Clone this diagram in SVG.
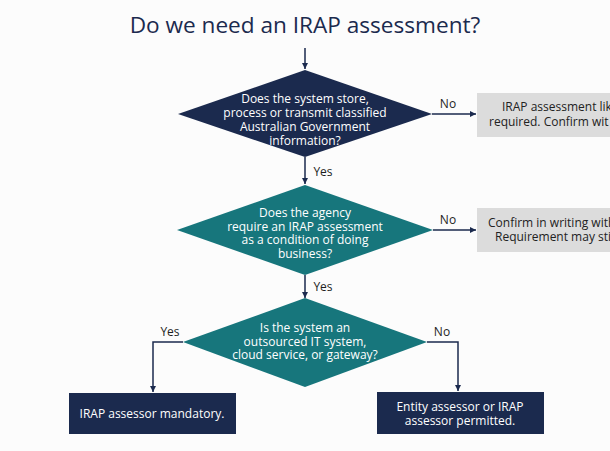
<svg xmlns="http://www.w3.org/2000/svg" width="610" height="451" viewBox="0 0 610 451">
<defs>
<marker id="ah" viewBox="0 0 10 10" refX="10" refY="5" markerWidth="6" markerHeight="6" orient="auto" markerUnits="userSpaceOnUse"><path d="M0,0 L10,5 L0,10 z" fill="#1b2a4e"/></marker>
<style>
text{font-family:"Open Sans","Liberation Sans",sans-serif}
.title{font-size:22.6px;fill:#1b2a4e;text-anchor:middle}
.dt{font-size:12px;fill:#ffffff;text-anchor:middle}
.lbl{font-size:12px;fill:#1e1e1e;text-anchor:middle}
.gt{font-size:12px;fill:#222222}
.navy{fill:#1b2a4e}
.teal{fill:#17767c}
.gray{fill:#dcdcdc}
.con{fill:none;stroke:#1b2a4e;stroke-width:1.5;marker-end:url(#ah)}
</style>
</defs>
<rect width="610" height="451" fill="#fcfcfc"/>
<text class="title" x="305" y="33">Do we need an IRAP assessment?</text>
<g id="connectors">
<path class="con" d="M305,48 V69"/>
<path class="con" d="M432,114 H476"/>
<path class="con" d="M305,157 V184"/>
<path class="con" d="M433,230 H476"/>
<path class="con" d="M305,275 V298"/>
<path class="con" d="M183,342 H153 V392"/>
<path class="con" d="M427,342 H458 V391"/>
</g>
<g id="labels">
<text class="lbl" x="448" y="108">No</text>
<text class="lbl" x="323" y="176">Yes</text>
<text class="lbl" x="448" y="224">No</text>
<text class="lbl" x="323" y="291">Yes</text>
<text class="lbl" x="170" y="336">Yes</text>
<text class="lbl" x="442" y="336">No</text>
</g>
<g id="q1">
<polygon class="navy" points="305,70 432,114 305,157 178,114"/>
<text class="dt" x="305" y="103">Does the system store,</text>
<text class="dt" x="305" y="117">process or transmit classified</text>
<text class="dt" x="305" y="131">Australian Government</text>
<text class="dt" x="305" y="145">information?</text>
</g>
<g id="r1">
<rect class="gray" x="477" y="93" width="140" height="44"/>
<text class="gt" x="502" y="111">IRAP assessment lik</text>
<text class="gt" x="489" y="126">required. Confirm wit</text>
</g>
<g id="q2">
<polygon class="teal" points="305,185 433,230 305,275 177,230"/>
<text class="dt" x="305" y="217">Does the agency</text>
<text class="dt" x="305" y="230.5">require an IRAP assessment</text>
<text class="dt" x="305" y="244">as a condition of doing</text>
<text class="dt" x="305" y="257.5">business?</text>
</g>
<g id="r2">
<rect class="gray" x="477" y="208" width="140" height="44"/>
<text class="gt" x="488" y="227">Confirm in writing with</text>
<text class="gt" x="495" y="241">Requirement may sti</text>
</g>
<g id="q3">
<polygon class="teal" points="305,298 427,342 305,387 183,342"/>
<text class="dt" x="305" y="332">Is the system an</text>
<text class="dt" x="305" y="345.5">outsourced IT system,</text>
<text class="dt" x="305" y="359">cloud service, or gateway?</text>
</g>
<g id="yes-box">
<rect class="navy" x="69" y="393" width="167" height="41"/>
<text class="dt" x="152" y="418">IRAP assessor mandatory.</text>
</g>
<g id="no-box">
<rect class="navy" x="377" y="392" width="167" height="42"/>
<text class="dt" x="460" y="411">Entity assessor or IRAP</text>
<text class="dt" x="460" y="425">assessor permitted.</text>
</g>
</svg>
